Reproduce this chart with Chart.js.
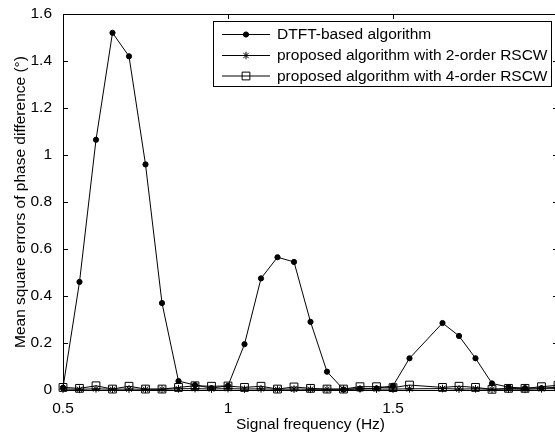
<!DOCTYPE html>
<html>
<head>
<meta charset="utf-8">
<script src="https://cdn.jsdelivr.net/npm/chart.js@4/dist/chart.umd.min.js"></script>
<style>
  html, body { margin: 0; padding: 0; background: #fff; overflow: hidden; }
  #wrap { width: 570px; height: 432px; }
</style>
</head>
<body>
<div id="wrap"><canvas id="plot" width="570" height="432"></canvas></div>
<script>
// signal frequencies (Hz) -- no sample at 1.6 Hz in the source figure
const freqs = [0.5, 0.55, 0.6, 0.65, 0.7, 0.75, 0.8, 0.85, 0.9, 0.95,
               1.0, 1.05, 1.1, 1.15, 1.2, 1.25, 1.3, 1.35, 1.4, 1.45,
               1.5, 1.55, 1.65, 1.7, 1.75, 1.8, 1.85, 1.9, 1.95, 2.0];
const dtft = [0.01, 0.46, 1.065, 1.52, 1.42, 0.96, 0.37, 0.038, 0.021, 0.008,
              0.018, 0.195, 0.475, 0.565, 0.545, 0.29, 0.078, 0.002, 0.005, 0.007,
              0.018, 0.135, 0.285, 0.23, 0.135, 0.028, 0.012, 0.008, 0.008, 0.012];
const rscw2 = [0.004, 0.003, 0.005, 0.003, 0.004, 0.003, 0.003, 0.005, 0.006, 0.004,
               0.006, 0.004, 0.005, 0.003, 0.004, 0.003, 0.003, 0.003, 0.005, 0.004,
               0.004, 0.005, 0.006, 0.004, 0.005, 0.003, 0.004, 0.003, 0.005, 0.006];
const rscw4 = [0.011, 0.007, 0.018, 0.004, 0.016, 0.004, 0.004, 0.011, 0.018, 0.016,
               0.017, 0.011, 0.016, 0.004, 0.013, 0.007, 0.004, 0.004, 0.014, 0.014,
               0.010, 0.021, 0.011, 0.016, 0.011, 0.003, 0.007, 0.007, 0.014, 0.02];
const seriesNames = ['DTFT-based algorithm',
                     'proposed algorithm with 2-order RSCW',
                     'proposed algorithm with 4-order RSCW'];
const yTicks = [0, 0.2, 0.4, 0.6, 0.8, 1, 1.2, 1.4, 1.6];
const xTicks = [0.5, 1, 1.5, 2];

const FONT = 'Arial, "Liberation Sans", sans-serif';
const FS = 15.5;

function pts(ys) { return freqs.map((f, i) => ({ x: f, y: ys[i] })); }

const styles = [
  { pointStyle: 'circle', pointRadius: 2.6, fill: '#000' },
  { pointStyle: 'star', pointRadius: 3.8, fill: 'rgba(0,0,0,0)' },
  { pointStyle: 'rect', pointRadius: 5.5, fill: 'rgba(0,0,0,0)' }
];

const frame = {
  id: 'frame',
  afterDraw(chart) {
    const { ctx, chartArea: a, scales } = chart;
    ctx.save();
    ctx.strokeStyle = '#000';
    ctx.lineWidth = 1;
    ctx.strokeRect(Math.round(a.left) + 0.5, Math.round(a.top) + 0.5,
                   Math.round(a.right - a.left), Math.round(a.bottom - a.top));
    ctx.beginPath();
    xTicks.forEach(v => {
      const px = Math.round(scales.x.getPixelForValue(v)) + 0.5;
      ctx.moveTo(px, a.bottom); ctx.lineTo(px, a.bottom - 5);
      ctx.moveTo(px, a.top); ctx.lineTo(px, a.top + 5);
    });
    yTicks.forEach(v => {
      const py = Math.round(scales.y.getPixelForValue(v)) + 0.5;
      ctx.moveTo(a.left, py); ctx.lineTo(a.left + 5, py);
      ctx.moveTo(a.right, py); ctx.lineTo(a.right - 5, py);
    });
    ctx.stroke();

    // legend box
    const bx = 213.5, by = 21.5, bw = 338, bh = 65;
    ctx.fillStyle = '#fff';
    ctx.fillRect(bx, by, bw, bh);
    ctx.strokeRect(bx, by, bw, bh);
    const rows = [34.5, 55.5, 76];
    rows.forEach((ry, i) => {
      ctx.strokeStyle = '#000';
      ctx.lineWidth = 1;
      ctx.beginPath();
      ctx.moveTo(222, ry); ctx.lineTo(270, ry);
      ctx.stroke();
      const st = styles[i];
      ctx.fillStyle = st.fill;
      Chart.helpers.drawPoint(ctx, {
        pointStyle: st.pointStyle, radius: st.pointRadius, rotation: 0, borderWidth: 1
      }, 246, ry);
      ctx.fillStyle = '#000';
      ctx.font = FS + 'px ' + FONT;
      ctx.textBaseline = 'middle';
      ctx.textAlign = 'left';
      ctx.fillText(seriesNames[i], 277, ry + 0.5);
    });
    ctx.restore();
  }
};

new Chart(document.getElementById('plot'), {
  type: 'line',
  data: {
    datasets: [dtft, rscw2, rscw4].map((ys, i) => ({
      label: seriesNames[i],
      data: pts(ys),
      borderColor: '#000',
      borderWidth: 1,
      pointBorderColor: '#000',
      pointBorderWidth: 1,
      pointStyle: styles[i].pointStyle,
      pointRadius: styles[i].pointRadius,
      pointBackgroundColor: styles[i].fill,
      tension: 0,
      fill: false,
      clip: false
    }))
  },
  options: {
    responsive: false,
    animation: false,
    events: [],
    layout: { padding: { top: 14, right: 12, left: 0, bottom: 0 } },
    plugins: { legend: { display: false }, tooltip: { enabled: false } },
    scales: {
      x: {
        type: 'linear',
        min: 0.5, max: 2,
        afterBuildTicks: s => { s.ticks = xTicks.map(v => ({ value: v })); },
        afterFit: s => { s.height = 42; },
        grid: { display: false },
        border: { display: false },
        // the "2" label falls outside the cropped figure
        ticks: { color: '#000', font: { family: FONT, size: FS }, padding: 1, maxRotation: 0,
                 callback: v => (v === 2 ? '' : String(v)) },
        title: { display: true, text: 'Signal frequency (Hz)', color: '#000',
                 font: { family: FONT, size: FS, lineHeight: 1 }, padding: { top: 0, bottom: 0 } }
      },
      y: {
        min: 0, max: 1.6,
        afterBuildTicks: s => { s.ticks = yTicks.map(v => ({ value: v })); },
        afterFit: s => { s.width = 63; },
        grid: { display: false },
        border: { display: false },
        ticks: { color: '#000', font: { family: FONT, size: FS }, padding: 3,
                 callback: v => String(v) },
        title: { display: true, text: 'Mean square errors of phase difference (°)', color: '#000',
                 font: { family: FONT, size: FS, lineHeight: 1 }, padding: { top: 13, bottom: 0 } }
      }
    }
  },
  plugins: [frame]
});
</script>
</body>
</html>
